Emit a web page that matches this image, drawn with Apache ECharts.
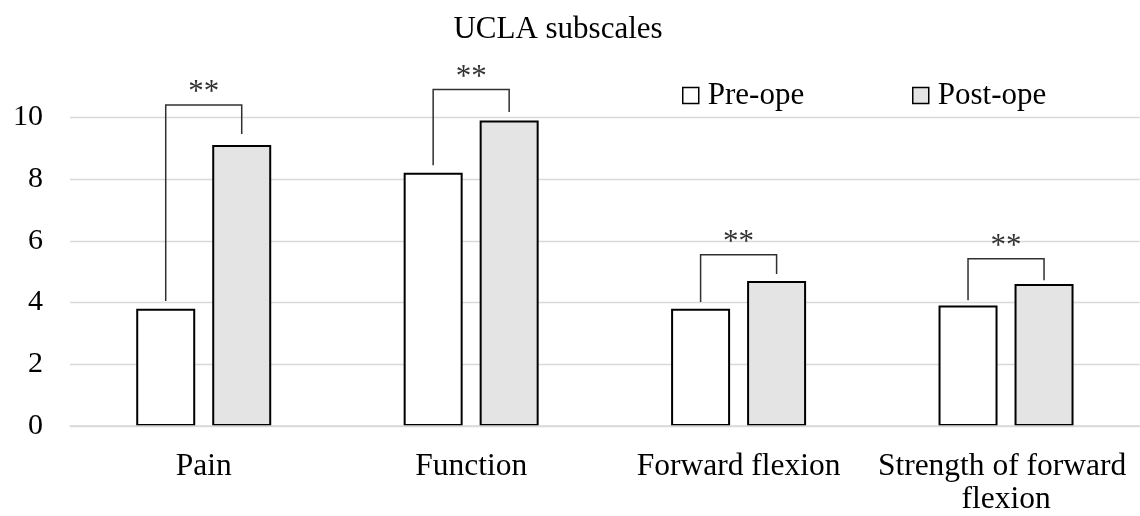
<!DOCTYPE html>
<html>
<head>
<meta charset="utf-8">
<title>UCLA subscales</title>
<script src="https://cdn.jsdelivr.net/npm/echarts@6/dist/echarts.min.js"></script>
<style>
  html, body { margin: 0; padding: 0; background: #fff; }
  #chart { width: 1140px; height: 516px; }
</style>
</head>
<body>
<div id="chart"></div>
<script>
// UCLA subscale scores before and after the operation
const categories = ['Pain', 'Function', 'Forward flexion', 'Strength of forward flexion'];
const preOpe = [3.8, 8.2, 3.8, 3.9];
const postOpe = [9.1, 9.9, 4.7, 4.6];
const yTicks = [0, 2, 4, 6, 8, 10];

// significance brackets: level of the horizontal bar, lower ends over each bar
const sigLevel = [10.4, 10.9, 5.55, 5.42];
const sigPreEnd = [4.05, 8.45, 4.02, 4.07];
const sigPostEnd = [9.46, 10.17, 4.92, 4.72];
const sigMark = ['**', '**', '**', '**'];

const FONT = "'Liberation Serif', 'Times New Roman', serif";
const BAR_W = 59;
const BAR_GAP = 17;
const HALF_STEP = (BAR_W + BAR_GAP) / 2;

const chart = echarts.init(document.getElementById('chart'));

const bracketData = categories.map((c, i) => [i, sigLevel[i], sigPreEnd[i], sigPostEnd[i], sigMark[i]]);

const legendText = { fontFamily: FONT, fontSize: 31, color: '#000', padding: [0, 0, 0, 4] };

chart.setOption({
  animation: false,
  backgroundColor: '#ffffff',
  title: {
    text: 'UCLA subscales',
    left: 558,
    top: 13,
    textAlign: 'center',
    padding: 0,
    textStyle: { fontFamily: FONT, fontSize: 31, fontWeight: 'normal', color: '#000', lineHeight: 34 }
  },
  legend: [
    {
      data: [{ name: 'Pre-ope', icon: 'rect' }],
      left: 682, top: 80, padding: 0,
      itemWidth: 16, itemHeight: 16,
      itemStyle: { borderColor: '#000', borderWidth: 1.5 },
      textStyle: legendText
    },
    {
      data: [{ name: 'Post-ope', icon: 'rect' }],
      left: 912, top: 80, padding: 0,
      itemWidth: 16, itemHeight: 16,
      itemStyle: { borderColor: '#000', borderWidth: 1.5 },
      textStyle: legendText
    }
  ],
  grid: { left: 70, right: 0, top: 117.3, bottom: 86.7, containLabel: false },
  xAxis: {
    type: 'category',
    data: categories,
    z: 5,
    axisTick: { show: false },
    axisLine: { lineStyle: { color: '#d9d9d9', width: 1.5 } },
    axisLabel: {
      interval: 0,
      margin: 24,
      color: '#000',
      fontFamily: FONT,
      fontSize: 31.5,
      lineHeight: 33,
      width: 262,
      overflow: 'break',
      align: 'center'
    }
  },
  yAxis: {
    type: 'value',
    min: yTicks[0],
    max: yTicks[yTicks.length - 1],
    interval: yTicks[1] - yTicks[0],
    axisLine: { show: false },
    axisTick: { show: false },
    splitLine: { lineStyle: { color: '#d9d9d9', width: 1.3 } },
    axisLabel: { margin: 27, color: '#000', fontFamily: FONT, fontSize: 30 }
  },
  series: [
    {
      name: 'Pre-ope',
      type: 'bar',
      data: preOpe,
      barWidth: BAR_W,
      barGap: (BAR_GAP / BAR_W * 100) + '%',
      itemStyle: { color: '#ffffff', borderColor: '#000000', borderWidth: 2 }
    },
    {
      name: 'Post-ope',
      type: 'bar',
      data: postOpe,
      barWidth: BAR_W,
      barGap: (BAR_GAP / BAR_W * 100) + '%',
      itemStyle: { color: '#e4e4e4', borderColor: '#000000', borderWidth: 2 }
    },
    {
      name: 'significance',
      type: 'custom',
      data: bracketData,
      clip: false,
      z: 6,
      silent: true,
      renderItem: function (params, api) {
        const top = api.coord([api.value(0), api.value(1)]);
        const preY = api.coord([api.value(0), api.value(2)])[1];
        const postY = api.coord([api.value(0), api.value(3)])[1];
        const xl = top[0] - HALF_STEP;
        const xr = top[0] + HALF_STEP;
        return {
          type: 'group',
          children: [
            {
              type: 'polyline',
              shape: { points: [[xl, preY], [xl, top[1]], [xr, top[1]], [xr, postY]] },
              style: { stroke: '#303030', lineWidth: 1.5, fill: null }
            },
            {
              type: 'text',
              style: {
                text: bracketData[params.dataIndex][4],
                x: top[0],
                y: top[1] - 12,
                align: 'center',
                verticalAlign: 'middle',
                font: '31px ' + FONT,
                fill: '#333333'
              }
            }
          ]
        };
      }
    }
  ]
});
</script>
</body>
</html>
